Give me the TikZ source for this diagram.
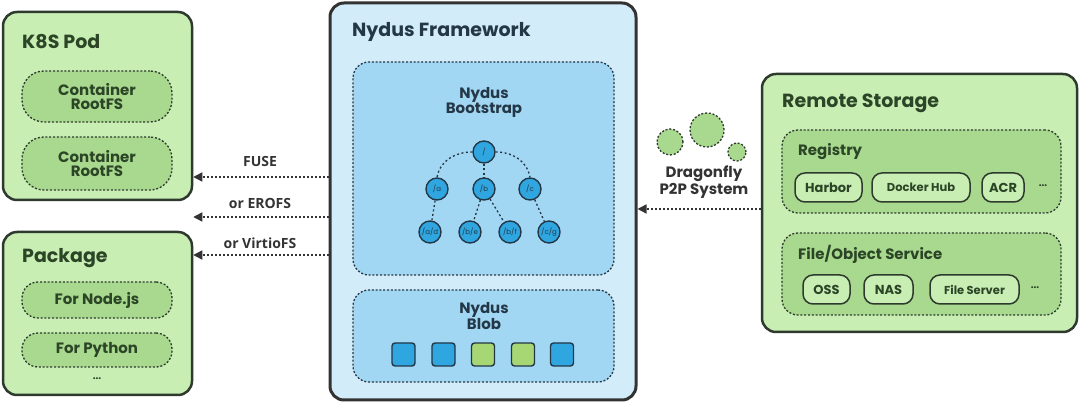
\documentclass[tikz,border=0pt]{standalone}
\usepackage{fontspec}
\setmainfont{Poppins}
\newfontfamily\lblfont{Open Sans}
\usetikzlibrary{arrows.meta}
\definecolor{lgreen}{HTML}{C8EEB4}
\definecolor{mgreen}{HTML}{A8D98E}
\definecolor{lblue}{HTML}{D3ECFA}
\definecolor{mblue}{HTML}{A2D7F3}
\definecolor{nblue}{HTML}{2FA6DF}
\definecolor{sqgreen}{HTML}{A6D774}
\definecolor{dgreen}{HTML}{2B4526}
\definecolor{dblue}{HTML}{243747}
\definecolor{edge}{HTML}{2E3A2E}
\tikzset{
  outer/.style={draw=edge, line width=2.5pt, rounded corners=14pt, inner sep=0pt},
  greenbox/.style={outer, fill=lgreen},
  bluebox/.style={outer, draw=black!80, line width=3pt, fill=lblue},
  dbox/.style={draw=edge, line width=1.3pt, dash pattern=on 2pt off 1.8pt, rounded corners=16pt, inner sep=0pt},
  pill/.style={dbox, fill=mgreen, text=dgreen, align=center, font=\fontsize{15}{15}\selectfont\bfseries},
  solidpill/.style={draw=edge, line width=1.5pt, rounded corners=10pt, fill=lgreen, text=dgreen, inner sep=0pt, font=\fontsize{13}{13}\selectfont\bfseries, minimum height=29pt},
  small/.style={font=\fontsize{11.5}{12}\selectfont\bfseries},
  title/.style={anchor=west, inner sep=0pt, font=\fontsize{19}{20}\selectfont\bfseries},
  subtitle/.style={anchor=west, inner sep=0pt, text=dgreen, font=\fontsize{15}{16}\selectfont\bfseries},
  inner title/.style={inner sep=0pt, text=dblue, align=center, font=\fontsize{15}{15}\selectfont\bfseries},
  tnode/.style={circle, draw=dblue, line width=1.4pt, fill=nblue, minimum size=22pt, inner sep=0pt, text=dblue, font=\fontsize{7}{7}\selectfont},
  tedge/.style={draw=dblue, line width=1.3pt, dash pattern=on 2pt off 2.5pt},
  square/.style={draw=dblue, line width=1.4pt, rounded corners=3pt, minimum size=23pt, inner sep=0pt},
  flow/.style={draw=black!80, line width=1.5pt, dash pattern=on 2pt off 2pt, -{Triangle[length=9pt,width=9pt]}},
  flowlbl/.style={inner sep=0pt, text=black!80, font=\lblfont\fontsize{14}{14}\selectfont\bfseries},
  dfly/.style={circle, draw=edge, line width=1.3pt, dash pattern=on 2pt off 1.8pt, fill=mgreen, inner sep=0pt}
}
\begin{document}
\begin{tikzpicture}[x=1pt,y=-1pt]
\useasboundingbox[fill=white] (0,0) rectangle (1080,403);
% K8S Pod
\node[greenbox, minimum width=189pt, minimum height=188pt] (k8s) at (97.5,106) {};
\node[title, text=dgreen] (k8st) at (22,42) {K8S Pod};
\node[pill, minimum width=150pt, minimum height=51pt, rounded corners=22pt] (c1) at (97,96.5) {Container\\[-1pt]RootFS};
\node[pill, minimum width=150pt, minimum height=53pt, rounded corners=22pt] (c2) at (97,163.5) {Container\\[-1pt]RootFS};
% Package
\node[greenbox, minimum width=189pt, minimum height=163pt] (pkg) at (97.5,313.5) {};
\node[title, text=dgreen] (pkgt) at (22,258) {Package};
\node[pill, minimum width=150pt, minimum height=36pt, rounded corners=16pt] (p1) at (97,300) {For Node.js};
\node[pill, minimum width=150pt, minimum height=34pt, rounded corners=16pt] (p2) at (97,350) {For Python};
\node[inner sep=0pt, text=dgreen, font=\bfseries] (pd) at (97,379) {...};
% Nydus framework
\node[bluebox, minimum width=306pt, minimum height=397pt] (nf) at (483,201.5) {};
\node[title, text=dblue] (nft) at (352,32) {Nydus Framework};
\node[dbox, draw=dblue, fill=mblue, minimum width=261pt, minimum height=213pt] (boot) at (483.5,168.5) {};
\node[inner title] (boott) at (484,102) {Nydus\\Bootstrap};
\node[tnode] (r) at (484,152) {/};
\node[tnode] (a) at (437,189) {/a};
\node[tnode] (b) at (484,189) {/b};
\node[tnode] (c) at (530,189) {/c};
\node[tnode] (ad) at (430,232) {/a/d};
\node[tnode] (be) at (470,232) {/b/e};
\node[tnode] (bf) at (510,232) {/b/f};
\node[tnode] (cg) at (549,232) {/c/g};
\draw[tedge] (r.west) to[out=180,in=80] (a.north);
\draw[tedge] (r) -- (b);
\draw[tedge] (r.east) to[out=0,in=100] (c.north);
\draw[tedge] (a) -- (ad);
\draw[tedge] (b) -- (be);
\draw[tedge] (b) -- (bf);
\draw[tedge] (c) -- (cg);
\node[dbox, draw=dblue, fill=mblue, minimum width=261pt, minimum height=92pt] (blob) at (483.5,336) {};
\node[inner title] (blobt) at (484,316) {Nydus\\Blob};
\node[square, fill=nblue] (s1) at (403.5,354.5) {};
\node[square, fill=nblue] (s2) at (443.5,354.5) {};
\node[square, fill=sqgreen] (s3) at (483,354.5) {};
\node[square, fill=sqgreen] (s4) at (523,354.5) {};
\node[square, fill=nblue] (s5) at (562,354.5) {};
% arrows to left
\draw[flow] (nf.west |- 0,177) -- (k8s.east |- 0,177);
\draw[flow] (nf.west |- 0,217) -- (k8s.east |- 0,217);
\draw[flow] (nf.west |- 0,255) -- (pkg.east |- 0,255);
\node[flowlbl] (l1) at (260,162) {FUSE};
\node[flowlbl] (l2) at (260,203) {or EROFS};
\node[flowlbl] (l3) at (260,243) {or VirtioFS};
% Remote storage
\node[greenbox, minimum width=315pt, minimum height=258pt] (rs) at (919.5,203) {};
\node[title, text=dgreen] (rst) at (782,103) {Remote Storage};
\node[dbox, fill=mgreen, minimum width=279pt, minimum height=83pt] (reg) at (921.5,171.5) {};
\node[subtitle] (regt) at (798,152) {Registry};
\node[solidpill, minimum width=67pt] (h1) at (828.5,187.5) {Harbor};
\node[solidpill, small, minimum width=98pt] (h2) at (921,187.5) {Docker Hub};
\node[solidpill, minimum width=42pt] (h3) at (1003,187.5) {ACR};
\node[inner sep=0pt, text=dgreen, font=\bfseries] (h4) at (1043,186) {...};
\node[dbox, fill=mgreen, minimum width=279pt, minimum height=82pt] (fos) at (921.5,274) {};
\node[subtitle] (fost) at (798,254) {File/Object Service};
\node[solidpill, minimum width=47pt] (f1) at (826.5,289.5) {OSS};
\node[solidpill, minimum width=49pt] (f2) at (888.5,289.5) {NAS};
\node[solidpill, small, minimum width=89pt] (f3) at (974.5,289.5) {File Server};
\node[inner sep=0pt, text=dgreen, font=\bfseries] (f4) at (1035,288) {...};
% Dragonfly
\node[dfly, minimum size=26pt] (d1) at (670,142) {};
\node[dfly, minimum size=34pt] (d2) at (707,130) {};
\node[dfly, minimum size=18pt] (d3) at (737,152) {};
\node[inner sep=0pt, text=black!80, align=center, font=\fontsize{15}{15}\selectfont\bfseries] (dt) at (704,182) {Dragonfly\\P2P System};
\draw[flow] (rs.west |- 0,209) -- (nf.east |- 0,209);
\end{tikzpicture}
\end{document}
